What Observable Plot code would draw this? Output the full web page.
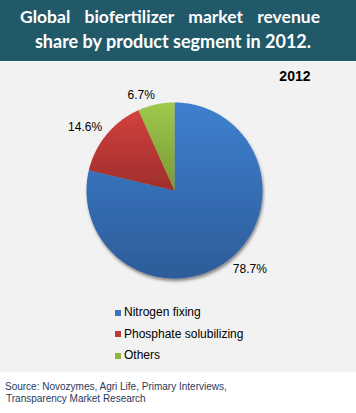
<!DOCTYPE html>
<html><head><meta charset="utf-8">
<script src="https://cdn.jsdelivr.net/npm/d3@7"></script>
<script src="https://cdn.jsdelivr.net/npm/@observablehq/plot@0.6"></script>
<style>
html,body{margin:0;padding:0;background:#fff;}
body{width:356px;font-family:"Liberation Sans",Arial,sans-serif;}
#title{background:#215968;height:61px;color:#fff;font-family:Lato,"Open Sans",sans-serif;font-weight:bold;font-size:17.5px;line-height:24px;box-sizing:border-box;padding-top:5px;}
#title .l1{padding:0 36px 0 20px;text-align:justify;text-align-last:justify;word-spacing:4px;}
#title .l2{text-align:center;padding-right:10px;font-size:18px;}
#gap{height:1px;background:#fff;}
#panel{background:#f2f2f2;height:310px;position:relative;}
#chart svg{display:block;}
#legend{position:absolute;left:115px;top:240px;font-size:12px;color:#000;}
#legend .row{height:21.5px;line-height:21.5px;display:flex;align-items:center;}
#legend .sw{width:6px;height:6px;margin-right:3px;}
#source{font-size:10px;color:#1f3a60;padding:9px 0 0 5px;line-height:12px;}
#source .s2{padding-left:1px;}
</style></head><body>
<div id="title"><div class="l1">Global biofertilizer market revenue</div><div class="l2">share by product segment in 2012.</div></div>
<div id="gap"></div>
<div id="panel"><div id="chart"></div><div id="legend"></div></div>
<div id="source"><div>Source: Novozymes, Agri Life, Primary Interviews,</div><div class="s2">Transparency Market Research</div></div>
<script>
// ---- data ----
const categories = ["Nitrogen fixing", "Phosphate solubilizing", "Others"];
const shares = [78.7, 14.6, 6.7];
const shareLabels = ["78.7%", "14.6%", "6.7%"];
const yearLabel = "2012";
// ---- styles ----
const gradTop = ["#3e80cf", "#d1423e", "#9fc94c"];
const gradBottom = ["#2d5c99", "#9f2d2a", "#789836"];
const swatch = ["#3a74c0", "#be3a37", "#8fb443"];

const W = 356, H = 232, cx = 174, cy = 128, R = 88;
const total = d3.sum(shares);
let cum = 0;
const slices = categories.map((c, i) => {
  const a0 = cum / total * 2 * Math.PI;
  cum += shares[i];
  const a1 = cum / total * 2 * Math.PI;
  return {category: c, share: shares[i], label: shareLabels[i], a0, a1, mid: (a0 + a1) / 2, i};
});
const pts = [];
for (const s of slices) {
  pts.push({cat: s.category, fill: `url(#grad${s.i})`, x: 0, y: 0});
  const n = Math.max(2, Math.ceil((s.a1 - s.a0) / (Math.PI / 180)));
  for (let k = 0; k <= n; k++) {
    const t = s.a0 + (s.a1 - s.a0) * k / n;
    pts.push({cat: s.category, fill: `url(#grad${s.i})`, x: Math.sin(t), y: Math.cos(t)});
  }
}
const off = 1 + 6 / R;
const labelPts = slices.map(s => ({label: s.label, x: off * Math.sin(s.mid), y: off * Math.cos(s.mid), left: Math.sin(s.mid) < 0}));

const plot = Plot.plot({
  width: W, height: H, margin: 0,
  style: {background: "transparent", fontFamily: "'Liberation Sans', Arial, sans-serif"},
  x: {domain: [-cx / R, (W - cx) / R], axis: null},
  y: {domain: [-(H - cy) / R, cy / R], axis: null},
  marks: [
    Plot.line(pts, {x: "x", y: "y", z: "cat", fill: "fill", stroke: "none", curve: "linear-closed"}),
    Plot.text(labelPts.filter(d => d.left), {x: "x", y: "y", text: "label", textAnchor: "end", lineAnchor: "bottom", fontSize: 12, fill: "#000"}),
    Plot.text(labelPts.filter(d => !d.left), {x: "x", y: "y", text: "label", textAnchor: "start", lineAnchor: "top", fontSize: 12, fill: "#000"}),
    Plot.text([yearLabel], {frameAnchor: "top-right", text: d => d, dx: -46, dy: 9, fontSize: 14, fontWeight: "bold", lineAnchor: "top", fill: "#000"})
  ]
});
const ns = "http://www.w3.org/2000/svg";
const defs = document.createElementNS(ns, "defs");
slices.forEach(s => {
  const g = document.createElementNS(ns, "linearGradient");
  g.setAttribute("id", `grad${s.i}`);
  g.setAttribute("x1", "0"); g.setAttribute("y1", "0"); g.setAttribute("x2", "0"); g.setAttribute("y2", "1");
  [[0, gradTop[s.i]], [1, gradBottom[s.i]]].forEach(([o, c]) => {
    const st = document.createElementNS(ns, "stop");
    st.setAttribute("offset", o); st.setAttribute("stop-color", c);
    g.appendChild(st);
  });
  defs.appendChild(g);
});
const f = document.createElementNS(ns, "filter");
f.setAttribute("id", "shadow"); f.setAttribute("x", "-20%"); f.setAttribute("y", "-20%"); f.setAttribute("width", "140%"); f.setAttribute("height", "140%");
const ds = document.createElementNS(ns, "feDropShadow");
ds.setAttribute("dx", "1"); ds.setAttribute("dy", "2.5"); ds.setAttribute("stdDeviation", "1.8"); ds.setAttribute("flood-color", "#000"); ds.setAttribute("flood-opacity", "0.45");
f.appendChild(ds); defs.appendChild(f);
plot.insertBefore(defs, plot.firstChild);
const lineG = plot.querySelector("g[aria-label='line']");
if (lineG) lineG.setAttribute("filter", "url(#shadow)");
document.getElementById("chart").appendChild(plot);

const legend = d3.select("#legend");
categories.forEach((c, i) => {
  const row = legend.append("div").attr("class", "row");
  row.append("div").attr("class", "sw").style("background", swatch[i]);
  row.append("span").text(c);
});
</script>
</body></html>
